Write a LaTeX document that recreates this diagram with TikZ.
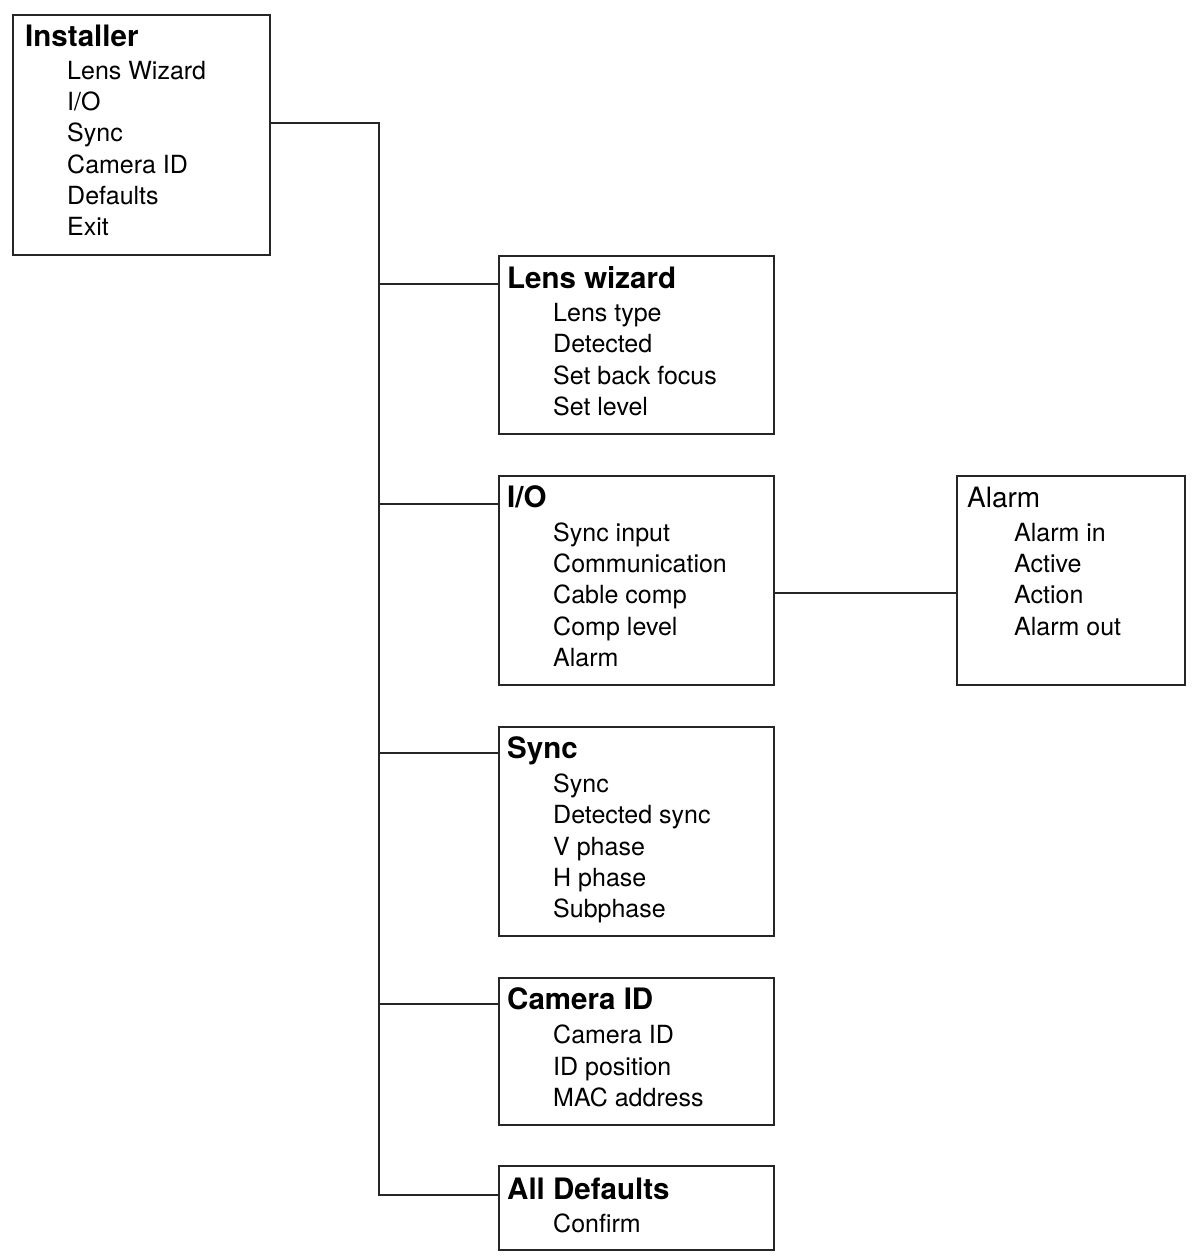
\documentclass[tikz,border=0pt]{standalone}
\usepackage{fontspec}
\setmainfont{TeX Gyre Heros}
\begin{document}
\begin{tikzpicture}[x=1pt,y=-1pt,
  menubox/.style={draw=black!85,line width=2pt,inner sep=0pt},
  ttl/.style={anchor=base west,inner sep=0pt,font=\fontsize{29.5}{31}\selectfont\bfseries},
  ttlr/.style={anchor=base west,inner sep=0pt,font=\fontsize{28}{30}\selectfont},
  itm/.style={anchor=base west,inner sep=0pt,font=\fontsize{25}{27}\selectfont},
  conn/.style={draw=black!85,line width=2pt}]
\useasboundingbox (0,0) rectangle (1193,1257);
% boxes
\node[menubox,minimum width=257pt,minimum height=240pt] (inst) at (141,135) {};
\node[menubox,minimum width=275pt,minimum height=178pt] (lens) at (636.5,345) {};
\node[menubox,minimum width=275pt,minimum height=209pt] (io) at (636.5,580.5) {};
\node[menubox,minimum width=228pt,minimum height=209pt] (alarm) at (1071,580.5) {};
\node[menubox,minimum width=275pt,minimum height=209pt] (sync) at (636.5,831.5) {};
\node[menubox,minimum width=275pt,minimum height=147pt] (cam) at (636.5,1051.5) {};
\node[menubox,minimum width=275pt,minimum height=84pt] (def) at (636.5,1208) {};
% texts
\node[ttl] (t0) at (25,47) {Installer};
\node[itm] (t0a) at (67,80) {Lens Wizard};
\node[itm] (t0b) at (67,111) {I/O};
\node[itm] (t0c) at (67,142) {Sync};
\node[itm] (t0d) at (67,174) {Camera ID};
\node[itm] (t0e) at (67,205) {Defaults};
\node[itm] (t0f) at (67,236) {Exit};
\node[ttl] (t1) at (507,288) {Lens wizard};
\node[itm] (t1a) at (553,321) {Lens type};
\node[itm] (t1b) at (553,352) {Detected};
\node[itm] (t1c) at (553,384) {Set back focus};
\node[itm] (t1d) at (553,415) {Set level};
\node[ttl] (t2) at (507,507) {I/O};
\node[itm] (t2a) at (553,541) {Sync input};
\node[itm] (t2b) at (553,572) {Communication};
\node[itm] (t2c) at (553,603) {Cable comp};
\node[itm] (t2d) at (553,635) {Comp level};
\node[itm] (t2e) at (553,666) {Alarm};
\node[ttlr] (t3) at (967,507) {Alarm};
\node[itm] (t3a) at (1014,541) {Alarm in};
\node[itm] (t3b) at (1014,572) {Active};
\node[itm] (t3c) at (1014,603) {Action};
\node[itm] (t3d) at (1014,635) {Alarm out};
\node[ttl] (t4) at (507,758) {Sync};
\node[itm] (t4a) at (553,792) {Sync};
\node[itm] (t4b) at (553,823) {Detected sync};
\node[itm] (t4c) at (553,855) {V phase};
\node[itm] (t4d) at (553,886) {H phase};
\node[itm] (t4e) at (553,917) {Subphase};
\node[ttl] (t5) at (507,1009) {Camera ID};
\node[itm] (t5a) at (553,1043) {Camera ID};
\node[itm] (t5b) at (553,1075) {ID position};
\node[itm] (t5c) at (553,1106) {MAC address};
\node[ttl] (t6) at (507,1199) {All Defaults};
\node[itm] (t6a) at (553,1232) {Confirm};
% connectors
\coordinate (j0) at (379,123);
\coordinate (j1) at (379,284);
\coordinate (j2) at (379,504);
\coordinate (j3) at (379,753);
\coordinate (j4) at (379,1004);
\coordinate (j5) at (379,1195);
\coordinate (ja) at (775,593);
\path[conn] (inst.east |- j0) -- (j0) -- (j5) -- (def.west |- j5);
\path[conn] (j1) -- (lens.west |- j1);
\path[conn] (j2) -- (io.west |- j2);
\path[conn] (j3) -- (sync.west |- j3);
\path[conn] (j4) -- (cam.west |- j4);
\path[conn] (io.east |- ja) -- (alarm.west |- ja);
\end{tikzpicture}
\end{document}
